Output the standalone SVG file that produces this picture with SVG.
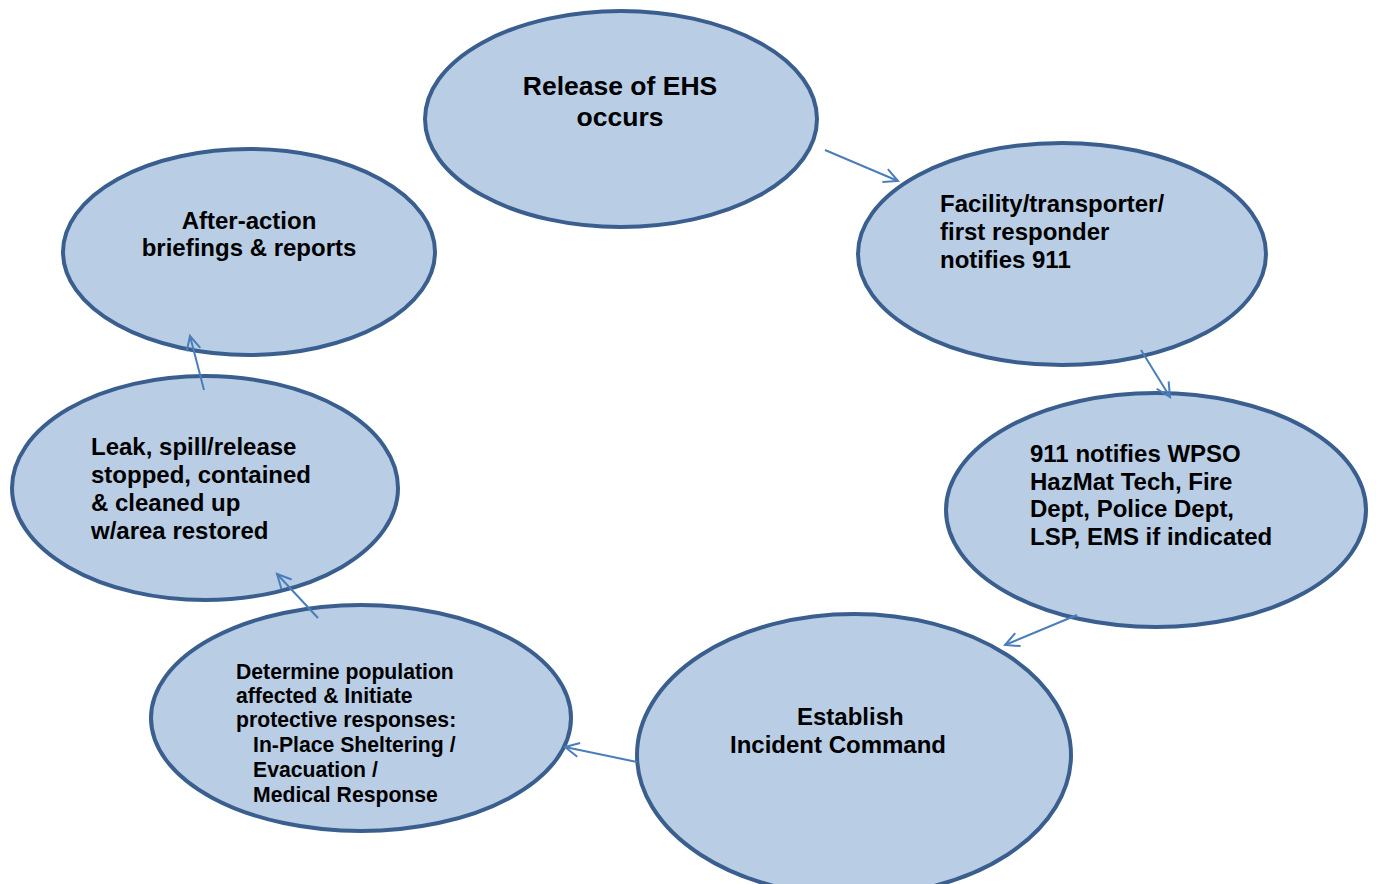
<svg xmlns="http://www.w3.org/2000/svg" width="1376" height="884" viewBox="0 0 1376 884">
  <style>
    .node ellipse { fill: #b9cde5; stroke: #3a5f8f; stroke-width: 4; }
    .node text { font-family: "Liberation Sans", Arial, sans-serif; font-weight: bold; fill: #000; font-size: 24px; }
    .c { text-anchor: middle; }
    .conn line { stroke: #4a7ebb; stroke-width: 2; marker-end: url(#chev); }
  </style>
  <defs>
    <marker id="chev" markerUnits="userSpaceOnUse" markerWidth="20" markerHeight="20" refX="15" refY="8" orient="auto" viewBox="0 0 20 16">
      <path d="M1,1 L15,8 L1,15" fill="none" stroke="#4a7ebb" stroke-width="2"/>
    </marker>
  </defs>
  <rect width="1376" height="884" fill="#fff"/>

  <g id="release" class="node">
    <ellipse cx="621" cy="119" rx="196" ry="108"/>
    <text class="c" style="font-size:26.5px" x="620" y="95">Release of EHS</text>
    <text class="c" style="font-size:26.5px" x="620" y="126">occurs</text>
  </g>

  <g id="notify911" class="node">
    <ellipse cx="1062" cy="254" rx="204" ry="111"/>
    <text x="940" y="212">Facility/transporter/</text>
    <text x="940" y="240">first responder</text>
    <text x="940" y="268">notifies 911</text>
  </g>

  <g id="dispatch" class="node">
    <ellipse cx="1156" cy="510" rx="210" ry="117"/>
    <text x="1030" y="462">911 notifies WPSO</text>
    <text x="1030" y="490">HazMat Tech, Fire</text>
    <text x="1030" y="517">Dept, Police Dept,</text>
    <text x="1030" y="545">LSP, EMS if indicated</text>
  </g>

  <g id="command" class="node">
    <ellipse cx="854" cy="755" rx="217" ry="141"/>
    <text x="797" y="725">Establish</text>
    <text x="730" y="753">Incident Command</text>
  </g>

  <g id="protect" class="node">
    <ellipse cx="361" cy="718" rx="210" ry="113"/>
    <text style="font-size:21.2px" x="236" y="679">Determine population</text>
    <text style="font-size:21.2px" x="236" y="703">affected &amp; Initiate</text>
    <text style="font-size:21.2px" x="236" y="727">protective responses:</text>
    <text style="font-size:21.2px" x="253" y="752">In-Place Sheltering /</text>
    <text style="font-size:21.2px" x="253" y="777">Evacuation /</text>
    <text style="font-size:21.2px" x="253" y="802">Medical Response</text>
  </g>

  <g id="contain" class="node">
    <ellipse cx="205" cy="488" rx="193" ry="112"/>
    <text x="91" y="455">Leak, spill/release</text>
    <text x="91" y="483">stopped, contained</text>
    <text x="91" y="511">&amp; cleaned up</text>
    <text x="91" y="539">w/area restored</text>
  </g>

  <g id="afteraction" class="node">
    <ellipse cx="249" cy="252" rx="186" ry="103"/>
    <text class="c" x="249" y="229">After-action</text>
    <text class="c" x="249" y="256">briefings &amp; reports</text>
  </g>

  <g id="connectors" class="conn">
    <line x1="825" y1="150" x2="898" y2="181"/>
    <line x1="1141" y1="350" x2="1170" y2="397"/>
    <line x1="1077" y1="615" x2="1005" y2="645"/>
    <line x1="637" y1="762" x2="565" y2="747"/>
    <line x1="318" y1="618" x2="277" y2="574"/>
    <line x1="204" y1="390" x2="190" y2="336"/>
  </g>
</svg>
